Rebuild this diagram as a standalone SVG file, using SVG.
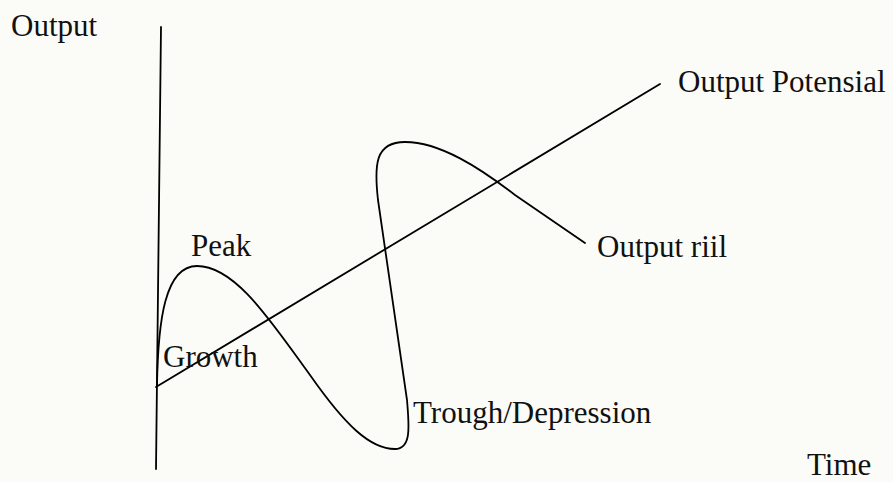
<svg xmlns="http://www.w3.org/2000/svg" width="893" height="482" viewBox="0 0 893 482">
<style>
.t{font-family:"Liberation Serif","Times New Roman",serif;font-size:31px;fill:#111;}
.ln{fill:none;stroke:#000;stroke-width:1.8;stroke-linecap:round;stroke-linejoin:round;}
</style>
<rect width="893" height="482" fill="#fbfcf7"/>
<g id="connectors">
<line class="ln" x1="161" y1="27" x2="156" y2="469"/>
<line class="ln" x1="156" y1="387" x2="660" y2="84"/>
<path class="ln" d="M157,386 C158,320 165,266 197,266 C235,266 270,320 310,375 C345,425 370,449 395,449 C412,449 409,425 407,400 L378,200 C374,165 375,142 405,142 C440,142 480,168 515,195 L585,243"/>
</g>
<g id="label-output"><text class="t" x="11" y="36">Output</text></g>
<g id="label-potensial"><text class="t" x="678" y="92">Output Potensial</text></g>
<g id="label-peak"><text class="t" x="191" y="256">Peak</text></g>
<g id="label-riil"><text class="t" x="597" y="257">Output riil</text></g>
<g id="label-growth"><text class="t" x="163" y="367">Growth</text></g>
<g id="label-trough"><text class="t" x="413" y="423">Trough/Depression</text></g>
<g id="label-time"><text class="t" x="807" y="475">Time</text></g>
</svg>
